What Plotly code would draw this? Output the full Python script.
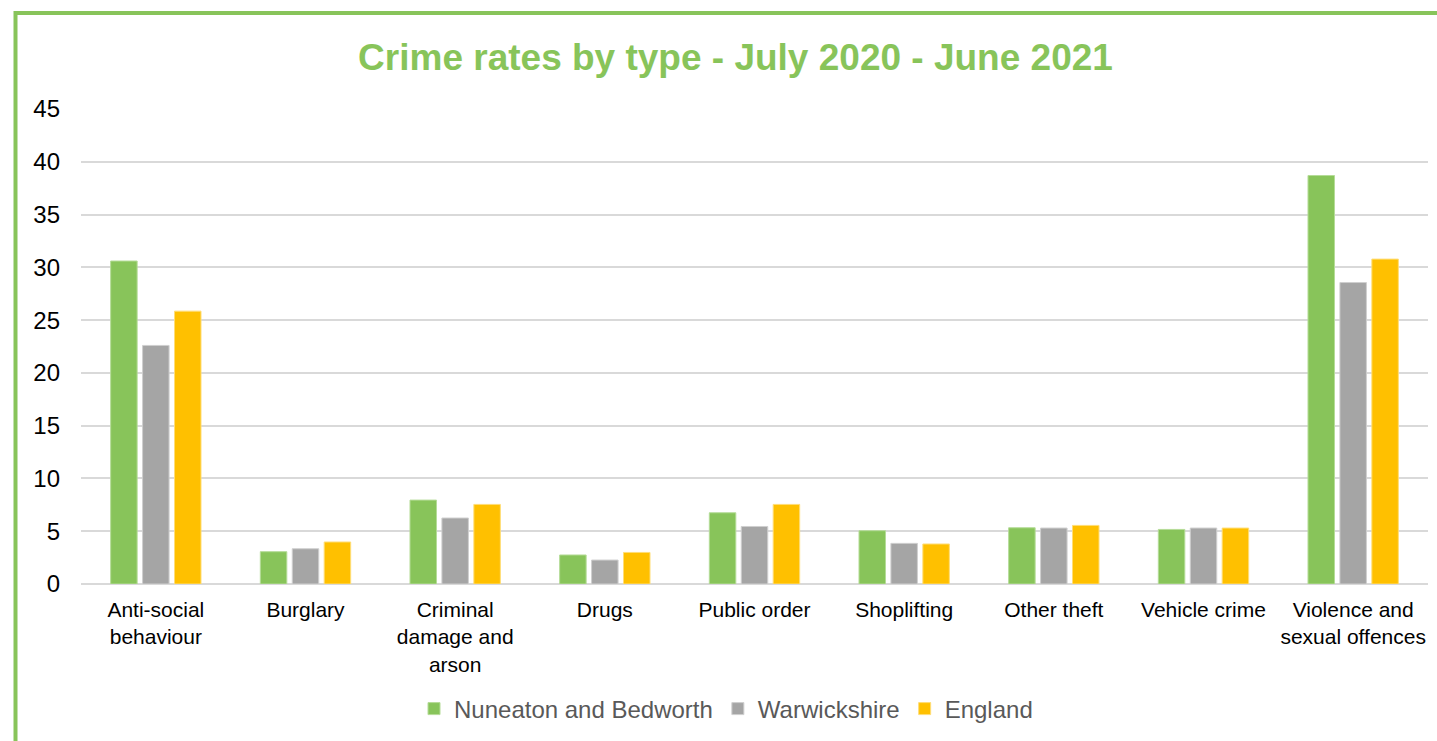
import plotly.graph_objects as go

categories = ["Anti-social<br>behaviour", "Burglary", "Criminal<br>damage and<br>arson", "Drugs",
              "Public order", "Shoplifting", "Other theft", "Vehicle crime",
              "Violence and<br>sexual offences"]
nuneaton = [30.6, 3.06, 7.95, 2.75, 6.75, 5.05, 5.33, 5.17, 38.7]
warwickshire = [22.6, 3.34, 6.25, 2.27, 5.45, 3.85, 5.3, 5.3, 28.56]
england = [25.85, 3.98, 7.54, 2.99, 7.54, 3.79, 5.55, 5.3, 30.78]
series_names = ["Nuneaton and Bedworth", "Warwickshire", "England"]
colors = ["#88C45A", "#A5A5A5", "#FFC000"]
edge_colors = ["#B5DC98", "#CFCFCF", "#FFDD77"]
title_text = "Crime rates by type - July 2020 - June 2021"
y_ticks = [0, 5, 10, 15, 20, 25, 30, 35, 40, 45]

W, H = 1437, 741
L, R, T, B = 81, 9, 109, 157
pw, ph = W - L - R, H - T - B

fig = go.Figure()
for name, vals, c, ec in zip(series_names, [nuneaton, warwickshire, england], colors, edge_colors):
    fig.add_trace(go.Bar(x=categories, y=vals, name=name, marker=dict(color=c, line=dict(color=ec, width=1))))

def px_x(p):
    return (p - L) / pw

def px_y(p):
    return (H - B - p) / ph

fig.update_layout(
    width=W, height=H,
    margin=dict(l=L, r=R, t=T, b=B, pad=0),
    paper_bgcolor="white", plot_bgcolor="white",
    barmode="group", bargap=0.36, bargroupgap=0.17,
    font=dict(family="Liberation Sans, Arial, sans-serif", color="#000000"),
    title=dict(text="<b>" + title_text + "</b>", x=735.5 / W, xanchor="center",
               y=1 - 57 / H, yanchor="middle", yref="container",
               font=dict(size=37, color="#88C45A", family="Liberation Sans, Arial, sans-serif")),
    xaxis=dict(showgrid=False, showline=False, ticks="", tickfont=dict(size=21, color="#000000"),
               ticklabelstandoff=11, zeroline=False),
    yaxis=dict(range=[0, 45], tickvals=y_ticks, showgrid=True, gridcolor="#D9D9D9", gridwidth=1.5,
               zeroline=True, zerolinecolor="#D9D9D9", zerolinewidth=1.5, showline=False,
               ticks="", tickfont=dict(size=24, color="#000000"), ticklabelstandoff=20),
    legend=dict(orientation="h", x=px_x(414), xanchor="left", y=px_y(709), yanchor="middle",
                font=dict(size=24, color="#595959"), itemwidth=30, traceorder="normal",
                bgcolor="rgba(0,0,0,0)"),
    shapes=[dict(type="rect", xref="paper", yref="paper",
                 x0=px_x(15.5), x1=px_x(1460), y0=px_y(760), y1=px_y(13),
                 line=dict(color="#88C45A", width=4), fillcolor="rgba(0,0,0,0)", layer="above")],
)

fig.write_html("out.html")
